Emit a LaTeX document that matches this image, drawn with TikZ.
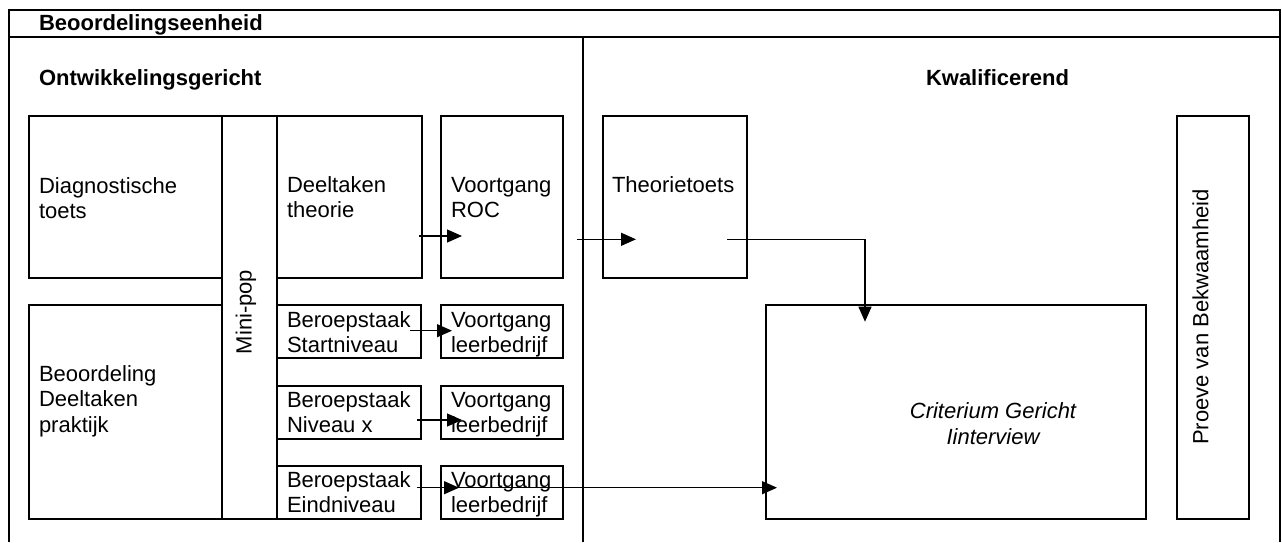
\documentclass[tikz,border=0pt]{standalone}
\usepackage{fontspec}
\setmainfont{Liberation Sans}
\usetikzlibrary{arrows.meta,fit}
\newcommand\twol[2]{\vtop{\hbox{#1}\hbox{#2}}}
\newcommand\threel[3]{\vtop{\hbox{#1}\hbox{#2}\hbox{#3}}}
\newcommand\twoc[2]{\vtop{\halign{\hfil##\hfil\cr#1\cr#2\cr}}}
\tikzset{
  box/.style={draw, line width=2pt, inner sep=0pt, outer sep=0pt},
  txt/.style={anchor=base west, inner sep=0pt, outer sep=0pt, font=\fontsize{22}{25.5}\selectfont},
  head/.style={txt, font=\fontsize{22}{25.5}\selectfont\bfseries},
  conn/.style={line width=1.3pt, -{Triangle[length=15pt,width=13pt]}},
  framel/.style={line width=2pt},
}
\begin{document}
\begin{tikzpicture}[x=1pt,y=-1pt]
\useasboundingbox (0,0) rectangle (1282,542);
% outer frame
\coordinate (fbl) at (9,542);
\coordinate (ftl) at (9,10);
\coordinate (ftr) at (1280,10);
\coordinate (fbr) at (1280,542);
\coordinate (sl) at (9,36.5);
\coordinate (sr) at (1280,36.5);
\coordinate (dt) at (583,36.5);
\coordinate (db) at (583,542);
\draw[framel] (fbl) -- (ftl) -- (ftr) -- (fbr);
\draw[framel] (sl) -- (sr);
\draw[framel] (dt) -- (db);
% headings
\node[head] (hbe) at (39,30) {Beoordelingseenheid};
\node[head] (hon) at (39,85) {Ontwikkelingsgericht};
\node[head] (hkw) at (926,85) {Kwalificerend};
% boxes
\node[box, fit={(28.5,116) (221.7,277.7)}] (diag) {};
\node[box, fit={(221.7,116) (277,519)}] (strip) {};
\node[box, fit={(277,116) (421.5,277.7)}] (deel) {};
\node[box, fit={(440.7,116) (563.3,277.7)}] (roc) {};
\node[box, fit={(602.5,116) (746.5,277.7)}] (theo) {};
\node[box, fit={(28.5,304.5) (221.7,519)}] (beoord) {};
\node[box, fit={(277,305) (421,358)}] (bs1) {};
\node[box, fit={(441,305) (563.3,358)}] (vl1) {};
\node[box, fit={(277,386) (421,439)}] (bs2) {};
\node[box, fit={(441,386) (563.3,439)}] (vl2) {};
\node[box, fit={(277,466) (421,519)}] (bs3) {};
\node[box, fit={(441,466) (563.3,519)}] (vl3) {};
\node[box, fit={(766,305) (1146.3,519)}] (crit) {};
\node[box, fit={(1177,116) (1249.3,519)}] (proeve) {};
% texts
\node[txt] (tdiag) at (39,193) {\twol{Diagnostische}{toets}};
\node[txt] (tdeel) at (287,192) {\twol{Deeltaken}{theorie}};
\node[txt] (troc) at (451,192) {\twol{Voortgang}{ROC}};
\node[txt] (ttheo) at (612,192) {Theorietoets};
\node[txt] (tbeoord) at (39,381) {\threel{Beoordeling}{Deeltaken}{praktijk}};
\node[txt] (tbs1) at (287,327) {\twol{Beroepstaak}{Startniveau}};
\node[txt] (tvl1) at (451,327) {\twol{Voortgang}{leerbedrijf}};
\node[txt] (tbs2) at (287,407) {\twol{Beroepstaak}{Niveau x}};
\node[txt] (tvl2) at (451,407) {\twol{Voortgang}{leerbedrijf}};
\node[txt] (tbs3) at (287,487) {\twol{Beroepstaak}{Eindniveau}};
\node[txt] (tvl3) at (451,487) {\twol{Voortgang}{leerbedrijf}};
\node[txt, anchor=base, font=\fontsize{22}{26.5}\selectfont\itshape] (tcrit) at (993,418) {\twoc{Criterium Gericht}{Iinterview}};
\node[txt, anchor=base, rotate=90] (tmini) at (251.5,312) {Mini-pop};
\node[txt, anchor=base, rotate=90] (tproeve) at (1208.3,317) {Proeve van Bekwaamheid};
% connector end points
\coordinate (a1s) at (419,236);
\coordinate (a1e) at (462,236);
\coordinate (a2s) at (577,239.3);
\coordinate (a2e) at (636,239.3);
\coordinate (a3s) at (727,239.3);
\coordinate (a3c) at (865,239.3);
\coordinate (a3e) at (865,321.7);
\coordinate (a4s) at (410,330.7);
\coordinate (a4e) at (452,330.7);
\coordinate (a5s) at (417,420);
\coordinate (a5e) at (462,420);
\coordinate (a6s) at (417,487.7);
\coordinate (a6e) at (459,487.7);
\coordinate (a7s) at (452,487.7);
\coordinate (a7e) at (777,487.7);
% connectors
\draw[conn] (a1s) -- (a1e);
\draw[conn] (a2s) -- (a2e);
\draw[conn] (a3s) -- (a3c) -- (a3e);
\draw[conn] (a4s) -- (a4e);
\draw[conn] (a5s) -- (a5e);
\draw[conn] (a6s) -- (a6e);
\draw[conn] (a7s) -- (a7e);
\end{tikzpicture}
\end{document}
